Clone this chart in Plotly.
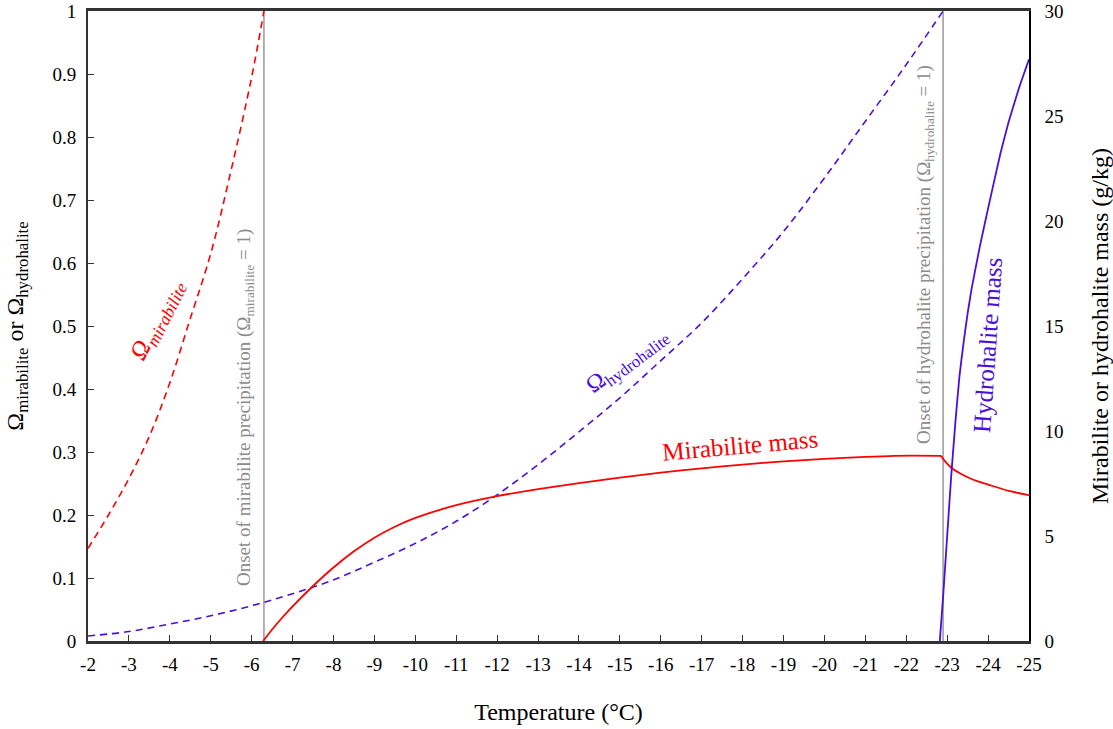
import plotly.graph_objects as go

# ---- data ----
t_omega_mir = [-2.0, -2.5, -3.0, -3.5, -4.0, -4.5, -5.0, -5.5, -6.0, -6.3]
omega_mir = [0.147, 0.200, 0.258, 0.325, 0.410, 0.512, 0.615, 0.748, 0.895, 1.0]

t_omega_hyd = [-2, -3, -4, -5, -6, -7, -8, -9, -10, -11, -12, -13, -14, -15, -16,
               -17, -18, -19, -20, -21, -22, -22.9]
omega_hyd = [0.008, 0.015, 0.027, 0.040, 0.056, 0.075, 0.097, 0.125, 0.155, 0.190,
             0.232, 0.280, 0.332, 0.386, 0.445, 0.505, 0.575, 0.650, 0.735, 0.825,
             0.915, 1.0]

t_mir_mass = [-6.28, -6.5, -6.75, -7, -7.5, -8, -8.5, -9, -9.5, -10, -11, -12, -13, -14, -15,
              -16, -17, -18, -19, -20, -21, -21.7, -22.85, -22.95, -23.1, -23.3, -23.5,
              -23.75, -24, -24.5, -25]
mir_mass = [0, 0.55, 1.12, 1.65, 2.62, 3.5, 4.27, 4.92, 5.44, 5.86, 6.47, 6.9, 7.23, 7.52, 7.78,
            8.02, 8.22, 8.4, 8.55, 8.67, 8.77, 8.82, 8.82, 8.55, 8.25, 8.0, 7.8,
            7.6, 7.45, 7.15, 6.95]
mir_peak_t = -22.85  # where hydrohalite starts and mirabilite mass begins to fall

t_hyd_mass = [-22.82, -22.9, -23.0, -23.1, -23.2, -23.3, -23.4, -23.5, -23.6, -23.8,
              -24.0, -24.3, -24.5, -24.75, -25.0]
hyd_mass = [0, 2.1, 5.0, 7.9, 10.4, 12.6, 14.2, 15.6, 16.8, 18.8, 20.6, 23.2, 24.7, 26.3, 27.7]

onset_mir_t = -6.3
onset_hyd_t = -22.9

x_ticks = list(range(-2, -26, -1))
y_ticks = [0, 0.1, 0.2, 0.3, 0.4, 0.5, 0.6, 0.7, 0.8, 0.9, 1]
y2_ticks = [0, 5, 10, 15, 20, 25, 30]

RED = "#ff0000"
BLUE = "#4a0fdc"
GRAY = "#999999"
FONT = "Liberation Serif"

fig = go.Figure()

# onset lines
for t in (onset_mir_t, onset_hyd_t):
    fig.add_trace(go.Scatter(x=[t, t], y=[0, 1], mode="lines",
                             line=dict(color=GRAY, width=1.5), showlegend=False,
                             hoverinfo="skip"))

fig.add_trace(go.Scatter(x=t_omega_mir, y=omega_mir, mode="lines",
                         line=dict(color=RED, width=1.6, dash="7px,5px", shape="spline"),
                         showlegend=False))
fig.add_trace(go.Scatter(x=t_omega_hyd, y=omega_hyd, mode="lines",
                         line=dict(color=BLUE, width=1.6, dash="7px,5px", shape="spline"),
                         showlegend=False))

k = t_mir_mass.index(mir_peak_t)
fig.add_trace(go.Scatter(x=t_mir_mass[:k + 1], y=mir_mass[:k + 1], mode="lines", yaxis="y2",
                         line=dict(color=RED, width=1.8, shape="spline", smoothing=0.8),
                         showlegend=False))
fig.add_trace(go.Scatter(x=t_mir_mass[k:], y=mir_mass[k:], mode="lines", yaxis="y2",
                         line=dict(color=RED, width=1.8, shape="spline", smoothing=0.6),
                         showlegend=False))
fig.add_trace(go.Scatter(x=t_hyd_mass, y=hyd_mass, mode="lines", yaxis="y2",
                         line=dict(color=BLUE, width=1.8, shape="spline", smoothing=0.4),
                         showlegend=False))

annos = [
    dict(x=-3.71, y=0.51, text="<i>Ω<sub>mirabilite</sub></i>", textangle=-63,
         font=dict(color=RED, size=25, family=FONT)),
    dict(x=-5.84, y=0.37,
         text="Onset of mirabilite precipitation (Ω<sub>mirabilite</sub> = 1)",
         textangle=-90, font=dict(color="#8c8c8c", size=19, family=FONT)),
    dict(x=-15.17, y=0.445, text="Ω<sub>hydrohalite</sub>", textangle=-37,
         font=dict(color=BLUE, size=24, family=FONT)),
    dict(x=-17.94, y=0.311, text="Mirabilite mass", textangle=-5,
         font=dict(color=RED, size=25, family=FONT)),
    dict(x=-22.46, y=0.613,
         text="Onset of hydrohalite precipitation (Ω<sub>hydrohalite</sub> = 1)",
         textangle=-90, font=dict(color="#8c8c8c", size=19, family=FONT)),
    dict(x=-24.0, y=0.47, text="Hydrohalite mass", textangle=-86,
         font=dict(color=BLUE, size=25, family=FONT)),
]
for a in annos:
    a.update(xref="x", yref="y", showarrow=False, xanchor="center", yanchor="middle")

fig.update_layout(
    width=1113, height=729,
    margin=dict(l=88, r=84, t=11, b=88, autoexpand=False),
    paper_bgcolor="white", plot_bgcolor="white",
    font=dict(family=FONT, size=19, color="black"),
    annotations=annos,
    xaxis=dict(range=[-2, -25], tickvals=x_ticks, ticktext=[str(v) for v in x_ticks],
               showgrid=False, zeroline=False, showline=True, linecolor="#333333",
               linewidth=2.5, mirror=True, ticks="inside", ticklen=6, tickwidth=1.2,
               tickcolor="#333333", automargin=False, ticklabelstandoff=4,
               title=dict(text="Temperature (°C)", font=dict(size=24, family=FONT),
                          standoff=30)),
    yaxis=dict(range=[0, 1], tickvals=y_ticks, ticktext=[f"{v:g}" for v in y_ticks],
               showgrid=False, zeroline=False, showline=True, linecolor="#333333",
               linewidth=2, ticks="inside", ticklen=6, tickwidth=1.2, tickcolor="#333333",
               automargin=False, ticklabelstandoff=6,
               title=dict(text="Ω<sub>mirabilite</sub> or Ω<sub>hydrohalite</sub>",
                          font=dict(size=24, family=FONT), standoff=22)),
    yaxis2=dict(range=[0, 30], tickvals=y2_ticks, overlaying="y", side="right",
                showgrid=False, zeroline=False, showline=True, linecolor="black",
                linewidth=1.5, ticks="", automargin=False, ticklabelstandoff=10,
                title=dict(text="Mirabilite or hydrohalite mass (g/kg)",
                           font=dict(size=24, family=FONT), standoff=30)),
)

fig.write_html("out.html")
